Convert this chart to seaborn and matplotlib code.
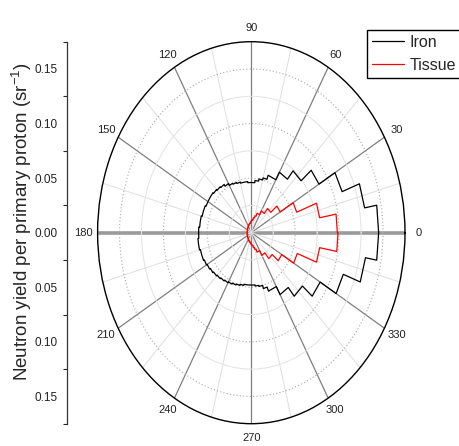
import numpy as np
import matplotlib
matplotlib.use("Agg")
import matplotlib.pyplot as plt
import seaborn as sns

# ---- data (angles in degrees, yields in sr^-1) ----
theta_edges = [0, 10, 20, 30, 40, 50, 60, 70, 75, 80, 85, 90, 95, 100, 105, 110,
               115, 120, 125, 130, 135, 140, 145, 150, 155, 160, 165, 170, 175, 180]

iron_upper = [0.145, 0.131, 0.110, 0.089, 0.074, 0.064, 0.056, 0.052, 0.050, 0.048,
              0.046, 0.046, 0.047, 0.047, 0.048, 0.049, 0.050, 0.052, 0.054, 0.055,
              0.056, 0.057, 0.057, 0.057, 0.058, 0.058, 0.059, 0.059, 0.060]
iron_lower = [0.145, 0.132, 0.1115, 0.0905, 0.076, 0.0655, 0.057, 0.053, 0.050, 0.049,
              0.048, 0.048, 0.048, 0.049, 0.050, 0.051, 0.052, 0.053, 0.054, 0.055,
              0.056, 0.057, 0.058, 0.059, 0.060, 0.060, 0.061, 0.061, 0.060]

tissue_upper = [0.098, 0.079, 0.055, 0.038, 0.029, 0.023, 0.019, 0.016, 0.014, 0.012,
                0.011, 0.010, 0.009, 0.0085, 0.008, 0.0075, 0.007, 0.0065, 0.006, 0.006,
                0.0055, 0.0055, 0.005, 0.005, 0.005, 0.0048, 0.0047, 0.0046, 0.0046]
tissue_lower = [0.0988, 0.079, 0.0557, 0.040, 0.031, 0.024, 0.019, 0.016, 0.014, 0.012,
                0.011, 0.010, 0.009, 0.0085, 0.008, 0.0075, 0.007, 0.0065, 0.006, 0.006,
                0.0055, 0.0055, 0.005, 0.005, 0.005, 0.0048, 0.0047, 0.0046, 0.0046]

angle_labels = ["0", "30", "60", "90", "120", "150", "180", "210", "240", "270", "300", "330"]
r_max = 0.175
yield_ticks = [-0.15, -0.10, -0.05, 0.0, 0.05, 0.10, 0.15]
ylabel = "Neutron yield per primary proton (sr$^{-1}$)"

sns.set_style("white")
plt.rcParams["font.family"] = ["Liberation Sans", "DejaVu Sans"]
plt.rcParams["mathtext.fontset"] = "custom"
plt.rcParams["mathtext.rm"] = "Liberation Sans"
plt.rcParams["mathtext.it"] = "Liberation Sans:italic"
plt.rcParams["mathtext.bf"] = "Liberation Sans:bold"


def step_curve(edges, upper, lower):
    e = np.deg2rad(np.repeat(np.asarray(edges, float), 2)[1:-1])
    ru = np.repeat(np.asarray(upper, float), 2)
    rl = np.repeat(np.asarray(lower, float), 2)
    th = np.concatenate([-e[::-1], e])
    rr = np.concatenate([rl[::-1], ru])
    return th, rr


fig = plt.figure(figsize=(4.6, 4.46), dpi=100)
W, H = 460.0, 446.0
left_px, right_px, top_px, bot_px = 97.6, 405.0, 41.7, 423.7
ax = fig.add_axes([left_px / W, 1 - bot_px / H, (right_px - left_px) / W, (bot_px - top_px) / H],
                  projection="polar")
ax.set_aspect("auto")

th_i, r_i = step_curve(theta_edges, iron_upper, iron_lower)
th_t, r_t = step_curve(theta_edges, tissue_upper, tissue_lower)
sns.lineplot(x=th_i, y=r_i, ax=ax, sort=False, estimator=None, color="black",
             linewidth=0.9, label="Iron", legend=False)
sns.lineplot(x=th_t, y=r_t, ax=ax, sort=False, estimator=None, color="red",
             linewidth=0.9, label="Tissue", legend=False)

ax.set_ylim(0, r_max)
ax.set_xlabel("")
ax.set_ylabel("")

# angular ticks / grid
ax.set_xticks(np.deg2rad(np.arange(0, 360, 30)))
ax.set_xticklabels(angle_labels, fontsize=8, color="#222222")
ax.set_xticks(np.deg2rad(np.arange(15, 360, 30)), minor=True)
ax.xaxis.grid(True, which="major", color="#7f7f7f", linewidth=0.9, linestyle="-")
ax.xaxis.grid(True, which="minor", color="#dedede", linewidth=0.7, linestyle="-")
ax.tick_params(axis="x", which="major", direction="in", length=5, width=1.0,
               color="black", pad=3)
ax.tick_params(axis="x", which="minor", direction="in", length=5, width=0.9,
               color="black")

# radial grid
ax.set_yticks([0.05, 0.10, 0.15])
ax.set_yticks([0.025, 0.075, 0.125], minor=True)
ax.set_yticklabels([])
ax.yaxis.grid(True, which="major", color="#a8a8a8", linewidth=0.8, linestyle=(0, (1, 2)))
ax.yaxis.grid(True, which="minor", color="#e2e2e2", linewidth=0.7, linestyle="-")
ax.tick_params(axis="y", which="both", length=0)
ax.spines["polar"].set_color("black")
ax.spines["polar"].set_linewidth(1.0)

for i, tk in enumerate(ax.xaxis.get_major_ticks()):
    if i in (0, 6):
        tk.gridline.set_linewidth(2.6)
        tk.gridline.set_color("#9a9a9a")

# left linear axis
ax2 = fig.add_axes([67 / W, 1 - bot_px / H, 0.001, (bot_px - top_px) / H])
ax2.set_ylim(-r_max, r_max)
ax2.set_xticks([])
ax2.set_yticks(yield_ticks)
ax2.set_yticklabels([f"{abs(v):.2f}" for v in yield_ticks], fontsize=8.5, color="#222222")
ax2.set_yticks(np.arange(-0.175, 0.176, 0.025), minor=True)
ax2.tick_params(axis="y", which="major", direction="out", length=5, width=0.8, pad=2)
ax2.tick_params(axis="y", which="minor", direction="out", length=3, width=0.8, left=True)
for s in ("top", "right", "bottom"):
    ax2.spines[s].set_visible(False)
ax2.spines["left"].set_color("#333333")
ax2.spines["left"].set_linewidth(0.9)
ax2.patch.set_alpha(0)
ax2.set_ylabel(ylabel, fontsize=13.5)
ax2.yaxis.label.set_va("center")
ax2.yaxis.set_label_coords(22 / W, 1 - 222 / H, transform=fig.transFigure)

handles, labels = ax.get_legend_handles_labels()
leg = fig.legend(handles, labels, loc="upper left", bbox_to_anchor=(367 / W, 1 - 30 / H),
                 frameon=True, fancybox=False, edgecolor="black", framealpha=1,
                 fontsize=11.5, handlelength=2.0, handletextpad=0.35, borderpad=0.3,
                 borderaxespad=0, labelspacing=0.5)
leg.get_frame().set_linewidth(1.0)

fig.savefig("out.png", dpi=100)
